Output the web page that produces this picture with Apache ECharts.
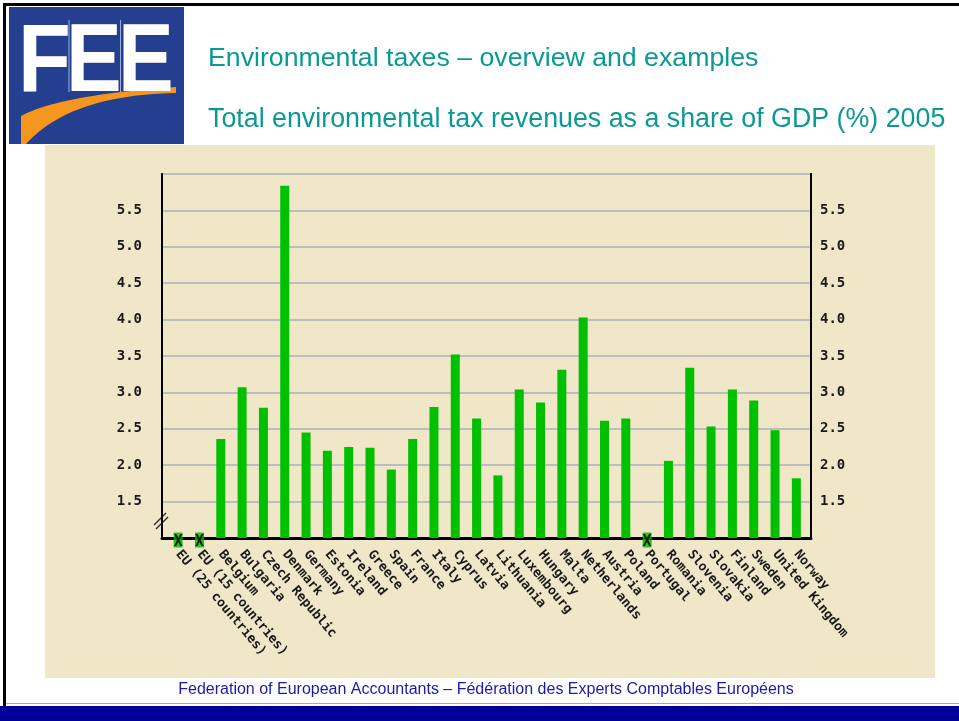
<!DOCTYPE html>
<html>
<head>
<meta charset="utf-8">
<script src="https://cdn.jsdelivr.net/npm/echarts@6/dist/echarts.min.js"></script>
<style>html,body{margin:0;padding:0;background:#fff}#c{width:959px;height:721px}</style>
</head>
<body>
<div id="c"></div>
<script>
const categories = ['EU (25 countries)','EU (15 countries)','Belgium','Bulgaria','Czech Republic','Denmark','Germany','Estonia','Ireland','Greece','Spain','France','Italy','Cyprus','Latvia','Lithuania','Luxembourg','Hungary','Malta','Netherlands','Austria','Poland','Portugal','Romania','Slovenia','Slovakia','Finland','Sweden','United Kingdom','Norway'];
const values = [null,null,2.36,3.07,2.79,5.84,2.45,2.20,2.25,2.24,1.94,2.36,2.80,3.52,2.64,1.86,3.04,2.86,3.31,4.03,2.61,2.64,null,2.06,3.34,2.53,3.04,2.89,2.48,1.82];
const yMin = 1, yMax = 6, yStep = 0.5;
const hiddenTicks = ['1.0','6.0'];
const titleLine1 = 'Environmental taxes \u2013 overview and examples';
const titleLine2 = 'Total environmental tax revenues as a share of GDP (%) 2005';
const footer = 'Federation of European Accountants \u2013 F\u00e9d\u00e9ration des Experts Comptables Europ\u00e9ens';

const missing = values.map((v,i)=> v===null ? [i, yMin] : null).filter(d=>d);
const tickFont = {fontFamily:'DejaVu Sans Mono', fontWeight:'bold', color:'#1a1a1a'};
const yLab = (m)=>Object.assign({}, tickFont, {fontSize:14, margin:m, formatter:(v)=>{const s=v.toFixed(1);return hiddenTicks.includes(s)?'':s;}});

// logo swoosh outline (quadratic curves)
function quad(p0,p1,p2,n){const pts=[];for(let i=0;i<=n;i++){const t=i/n,a=(1-t)*(1-t),b=2*(1-t)*t,c=t*t;pts.push([a*p0[0]+b*p1[0]+c*p2[0],a*p0[1]+b*p1[1]+c*p2[1]]);}return pts;}
const swoosh = [[21,144]].concat(quad([21,116],[60,95],[176,87],24), quad([176,93],[70,95],[26,144],24));

const chart = echarts.init(document.getElementById('c'), null, {renderer:'canvas'});
chart.setOption({
  backgroundColor:'#ffffff',
  animation:false,
  graphic:[
    {type:'rect', shape:{x:45,y:145,width:890,height:533}, style:{fill:'#efe7c7'}, z:-10},
    {type:'rect', shape:{x:3,y:3,width:956,height:3}, style:{fill:'#000'}},
    {type:'rect', shape:{x:3,y:3,width:3,height:718}, style:{fill:'#000'}},
    {type:'rect', shape:{x:6,y:703,width:953,height:1}, style:{fill:'#aaaaaa'}},
    {type:'rect', shape:{x:0,y:706,width:959,height:15}, style:{fill:'#000099'}},
    {type:'rect', shape:{x:9,y:7,width:175,height:137}, style:{fill:'#243f8f'}},
    {type:'polygon', shape:{points:swoosh}, style:{fill:'#f5961e'}},
    {type:'text', x:18, y:17, scaleX:0.9, style:{text:'F', font:'bold 96px "Liberation Sans"', fill:'#fff', textVerticalAlign:'top'}},
    {type:'text', x:66, y:17, scaleX:0.87, style:{text:'E', font:'bold 96px "Liberation Sans"', fill:'#fff', textVerticalAlign:'top'}},
    {type:'text', x:118, y:17, scaleX:0.87, style:{text:'E', font:'bold 96px "Liberation Sans"', fill:'#fff', textVerticalAlign:'top'}},
    {type:'rect', shape:{x:68.5,y:20,width:1,height:72}, style:{fill:'#9fb0d8'}},
    {type:'rect', shape:{x:120,y:20,width:1,height:72}, style:{fill:'#9fb0d8'}},
    {type:'text', x:208, y:59, style:{text:titleLine1, font:'26.7px "Liberation Sans"', fill:'#0a9994', textVerticalAlign:'middle'}},
    {type:'text', x:208, y:120, style:{text:titleLine2, font:'26.8px "Liberation Sans"', fill:'#0a9994', textVerticalAlign:'middle'}},
    {type:'text', x:486, y:690, style:{text:footer, font:'16px "Liberation Sans"', fill:'#1a1ab0', textAlign:'center', textVerticalAlign:'middle'}},
    {type:'line', shape:{x1:154,y1:525,x2:166,y2:513}, style:{stroke:'#333', lineWidth:1.5}},
    {type:'line', shape:{x1:156,y1:529,x2:168,y2:517}, style:{stroke:'#333', lineWidth:1.5}}
  ],
  grid:[
    {left:162, top:174, width:649, height:364, show:true, borderColor:'#000', borderWidth:2, backgroundColor:'transparent', outerBoundsMode:'none', containLabel:false},
    {left:167.5, top:174, width:639.5, height:364, outerBoundsMode:'none', containLabel:false}
  ],
  xAxis:[
    {gridIndex:0, type:'value', min:0, max:1, axisLine:{show:true, lineStyle:{color:'#000', width:3}}, axisTick:{show:false}, axisLabel:{show:false}, splitLine:{show:false}},
    {gridIndex:1, type:'category', data:categories, axisLine:{show:false}, axisTick:{show:false}, splitLine:{show:false},
      axisLabel:Object.assign({}, tickFont, {fontSize:13, interval:0, rotate:-50, margin:14})}
  ],
  yAxis:[
    {gridIndex:0, type:'value', position:'left', min:yMin, max:yMax, interval:yStep, axisLine:{show:true, lineStyle:{color:'#000', width:2}}, axisTick:{show:false},
      splitLine:{show:true, lineStyle:{color:'#bdbdbd', width:2}}, axisLabel:yLab(20)},
    {gridIndex:0, type:'value', position:'right', min:yMin, max:yMax, interval:yStep, axisLine:{show:true, lineStyle:{color:'#000', width:2}}, axisTick:{show:false},
      splitLine:{show:false}, axisLabel:yLab(9)},
    {gridIndex:1, type:'value', min:yMin, max:yMax, interval:yStep, show:false}
  ],
  series:[
    {type:'bar', xAxisIndex:1, yAxisIndex:2, data:values, barWidth:9, itemStyle:{color:'#00c000'}, z:3},
    {type:'scatter', xAxisIndex:1, yAxisIndex:2, data:missing, symbol:'rect', symbolSize:[9,15], symbolOffset:[0,2],
      itemStyle:{color:'#00b400'}, z:5,
      label:{show:true, position:'inside', offset:[0,2], formatter:'X', fontFamily:'DejaVu Sans Mono', fontWeight:'bold', fontSize:15, color:'#000'}}
  ]
});
</script>
</body>
</html>
